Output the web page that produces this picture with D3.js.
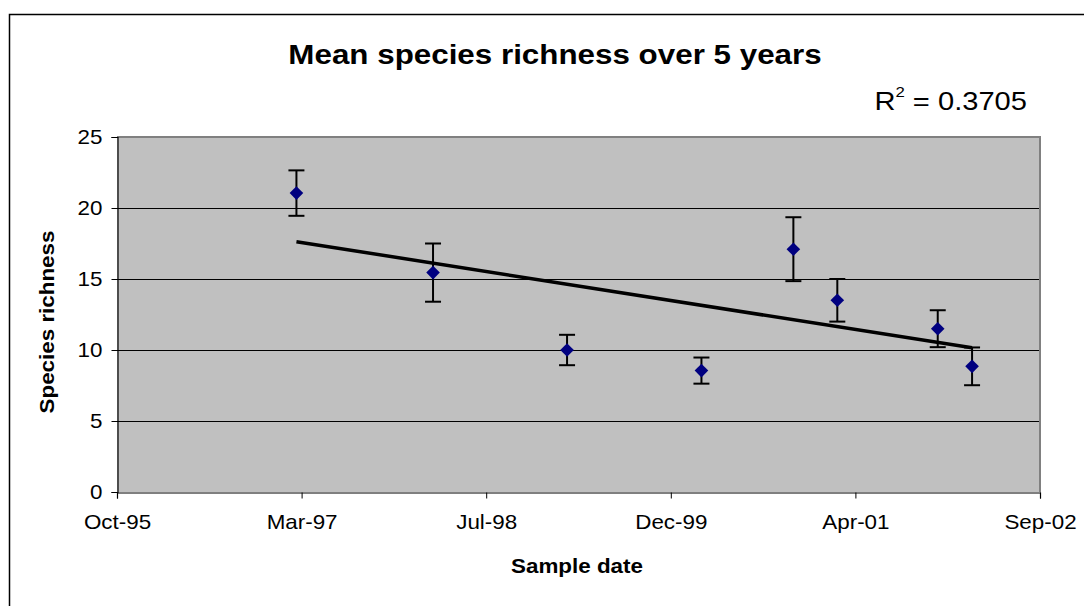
<!DOCTYPE html>
<html>
<head>
<meta charset="utf-8">
<script src="https://cdn.jsdelivr.net/npm/d3@7"></script>
<style>
  html, body { margin: 0; padding: 0; background: #fff; }
  svg { display: block; }
  text { font-family: "Liberation Sans", Arial, sans-serif; fill: #000; }
</style>
</head>
<body>
<svg id="chart" width="1084" height="606"></svg>
<script>
// ---- data ----
const sampleDates = ["1997-02-25", "1998-03-02", "1999-02-28", "2000-02-27",
                     "2000-11-02", "2001-03-01", "2001-11-28", "2002-03-01"];
const meanRichness = [21.05, 15.45, 10.0, 8.55, 17.1, 13.5, 11.5, 8.85];
const errorAmount = [1.6, 2.05, 1.07, 0.92, 2.25, 1.5, 1.3, 1.33];
const xTickDates = ["1995-10-28", "1997-03-11", "1998-07-24", "1999-12-06", "2001-04-19", "2002-09-01"];
const xTickLabels = ["Oct-95", "Mar-97", "Jul-98", "Dec-99", "Apr-01", "Sep-02"];
const yTicks = [0, 5, 10, 15, 20, 25];
const titleText = "Mean species richness over 5 years";
const r2Text = "0.3705";
const xTitle = "Sample date";
const yTitle = "Species richness";

const parse = d3.utcParse("%Y-%m-%d");
const pts = sampleDates.map((d, i) => ({ date: parse(d), y: meanRichness[i], e: errorAmount[i] }));
const tickDates = xTickDates.map(parse);

const svg = d3.select("#chart");
const W = 1084, H = 606;
const plot = { left: 117, right: 1040, top: 137, bottom: 492 };
const SX = 1.12; // horizontal stretch of the original lettering

const x = d3.scaleUtc().domain([tickDates[0], tickDates[tickDates.length - 1]]).range([plot.left, plot.right]);
const y = d3.scaleLinear().domain([0, 25]).range([plot.bottom, plot.top]);

// outer chart border
svg.append("rect").attr("x", 9.5).attr("y", 14.5).attr("width", W).attr("height", H)
  .attr("fill", "#fff").attr("stroke", "#000").attr("stroke-width", 1.5);

// plot area background
svg.append("rect").attr("x", plot.left).attr("y", plot.top)
  .attr("width", plot.right - plot.left).attr("height", plot.bottom - plot.top)
  .attr("fill", "#c0c0c0");

// gridlines
svg.append("g").selectAll("line").data(yTicks.filter(t => t > 0 && t < 25)).join("line")
  .attr("x1", plot.left).attr("x2", plot.right)
  .attr("y1", d => Math.round(y(d)) + 0.5).attr("y2", d => Math.round(y(d)) + 0.5)
  .attr("stroke", "#000").attr("stroke-width", 1);

// plot border (top and right, gray)
svg.append("path")
  .attr("d", `M${plot.left},${plot.top} H${plot.right} V${plot.bottom}`)
  .attr("fill", "none").attr("stroke", "#808080").attr("stroke-width", 2);

// y axis
const yAxis = d3.axisLeft(y).tickValues(yTicks).tickSize(6).tickPadding(9).tickFormat(d3.format("d"));
const gy = svg.append("g").attr("transform", `translate(${plot.left + 0.5},0)`).call(yAxis);
gy.select(".domain").attr("stroke", "#000").attr("stroke-width", 1.2);
gy.selectAll(".tick line").attr("stroke", "#000");
gy.selectAll(".tick text").attr("font-size", 20).attr("font-family", "Liberation Sans, Arial, sans-serif")
  .attr("fill", "#000").attr("dy", "0.34em");

// x axis
const xAxis = d3.axisBottom(x).tickValues(tickDates).tickSize(6).tickPadding(16)
  .tickFormat((d, i) => xTickLabels[i]);
const gx = svg.append("g").attr("transform", `translate(0,${plot.bottom + 0.5})`).call(xAxis);
gx.select(".domain").attr("stroke", "#000").attr("stroke-width", 1.2);
gx.selectAll(".tick line").attr("stroke", "#000");
gx.selectAll(".tick text").attr("font-size", 20).attr("font-family", "Liberation Sans, Arial, sans-serif")
  .attr("fill", "#000");

// stretch tick labels horizontally
gy.selectAll(".tick text").each(function() {
  const t = d3.select(this);
  const xx = +t.attr("x");
  t.attr("x", xx / SX).attr("transform", `scale(${SX},1)`);
});
gx.selectAll(".tick text").attr("transform", `scale(${SX},1)`);

// linear trendline (least squares on days)
const xs = pts.map(p => +p.date / 864e5), ys = pts.map(p => p.y);
const mx = d3.mean(xs), my = d3.mean(ys);
const slope = d3.sum(xs, (v, i) => (v - mx) * (ys[i] - my)) / d3.sum(xs, v => (v - mx) ** 2);
const icpt = my - slope * mx;
const xMin = d3.min(xs), xMax = d3.max(xs);
const trend = [xMin, xMax].map(v => ({ date: new Date(v * 864e5), y: icpt + slope * v }));
svg.append("path").datum(trend)
  .attr("d", d3.line().x(d => x(d.date)).y(d => y(d.y)))
  .attr("fill", "none").attr("stroke", "#000").attr("stroke-width", 3.5);

// error bars
const eb = svg.append("g").attr("stroke", "#000").attr("stroke-width", 2);
pts.forEach(p => {
  const cx = x(p.date);
  eb.append("line").attr("x1", cx).attr("x2", cx).attr("y1", y(p.y + p.e)).attr("y2", y(p.y - p.e));
  eb.append("line").attr("x1", cx - 8).attr("x2", cx + 8).attr("y1", y(p.y + p.e)).attr("y2", y(p.y + p.e));
  eb.append("line").attr("x1", cx - 8).attr("x2", cx + 8).attr("y1", y(p.y - p.e)).attr("y2", y(p.y - p.e));
});

// markers
svg.append("g").selectAll("path").data(pts).join("path")
  .attr("transform", d => `translate(${x(d.date)},${y(d.y)})`)
  .attr("d", "M0,-6.8 L6.8,0 L0,6.8 L-6.8,0 Z")
  .attr("fill", "#000080");

// title
svg.append("text").attr("transform", `translate(555,64) scale(${SX},1)`)
  .attr("text-anchor", "middle").attr("font-size", 28).attr("font-weight", "bold")
  .text(titleText);

// R^2 label
const r2 = svg.append("text").attr("transform", `translate(1027,110) scale(1.12,1)`)
  .attr("text-anchor", "end").attr("font-size", 26);
r2.append("tspan").text("R");
r2.append("tspan").attr("font-size", 15).attr("dy", -13).text("2");
r2.append("tspan").attr("dy", 13).text(" = " + r2Text);

// axis titles
svg.append("text").attr("transform", `translate(577,573) scale(${SX},1)`)
  .attr("text-anchor", "middle").attr("font-size", 20).attr("font-weight", "bold")
  .text(xTitle);
svg.append("text").attr("transform", `translate(53.5,322) rotate(-90) scale(${SX},1)`)
  .attr("text-anchor", "middle").attr("font-size", 20).attr("font-weight", "bold")
  .text(yTitle);
</script>
</body>
</html>
